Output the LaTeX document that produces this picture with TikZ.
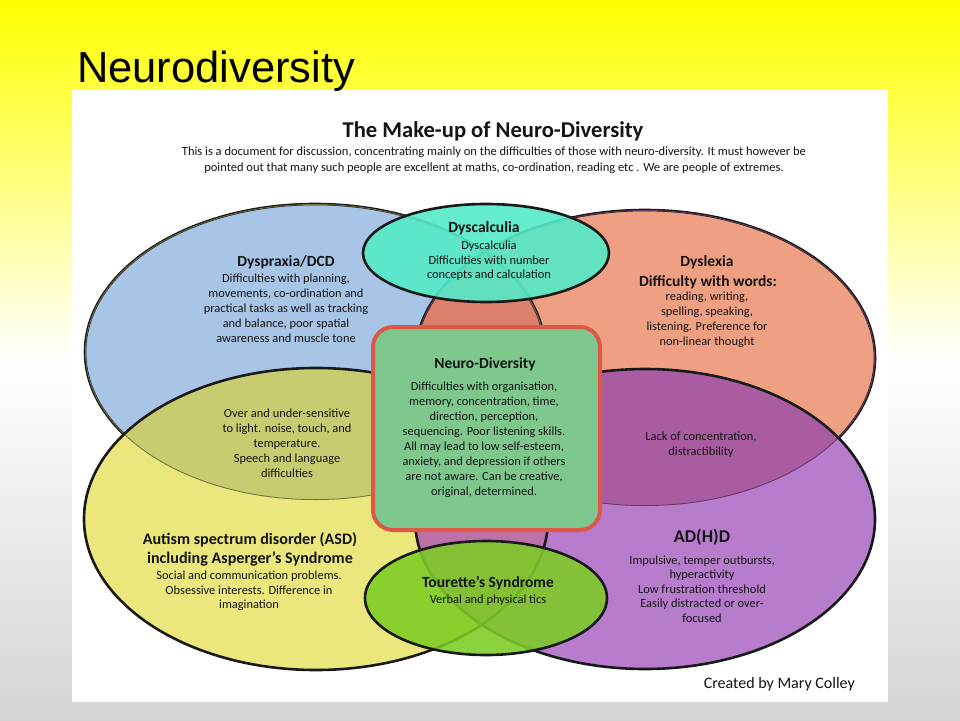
\documentclass[tikz,border=0pt]{standalone}
\usepackage{fontspec}
\setmainfont{Carlito}
\newfontfamily\arialf{Liberation Sans}
\definecolor{bgyel}{RGB}{255,255,0}
\definecolor{bggray}{RGB}{212,212,212}
\definecolor{cblue}{RGB}{168,196,230}
\definecolor{corange}{RGB}{240,160,130}
\definecolor{cyellow}{RGB}{234,232,125}
\definecolor{cpurple}{RGB}{183,124,204}
\definecolor{colive}{RGB}{200,204,112}
\definecolor{cdpurp}{RGB}{170,92,162}
\definecolor{credov}{RGB}{222,128,110}
\definecolor{cmauve}{RGB}{190,112,168}
\definecolor{cteal}{RGB}{84,234,200}
\definecolor{cboxg}{RGB}{126,200,142}
\definecolor{cboxr}{RGB}{222,88,72}
\definecolor{ctgreen}{RGB}{124,204,36}
\definecolor{cedge}{RGB}{25,25,25}
\definecolor{ctext}{RGB}{20,20,20}
\tikzset{
  edge/.style={draw=cedge, line width=2.6pt},
  ttl/.style={font={\fontsize{15.5}{19}\selectfont\bfseries}, text=ctext, align=center, inner sep=0pt},
  body/.style={font={\fontsize{12.4}{15}\selectfont}, text=ctext, align=center, inner sep=0pt},
}
\begin{document}
\begin{tikzpicture}[x=1pt,y=-1pt]
\useasboundingbox (0,0) rectangle (960,720);
\shade[top color=bgyel, bottom color=bggray, middle color=white] (0,0) rectangle (960,720);
\fill[white] (72,90) rectangle (888,702);

% base fills
\fill[cblue] (315,352) ellipse [x radius=230, y radius=148];
\fill[corange] (645,358) ellipse [x radius=230, y radius=148];
\begin{scope}
  \clip (315,352) ellipse [x radius=230, y radius=148];
  \fill[credov] (645,358) ellipse [x radius=230, y radius=148];
\end{scope}
\draw[edge] (315,352) ellipse [x radius=230, y radius=148];
\draw[edge] (645,358) ellipse [x radius=230, y radius=148];

\fill[cyellow] (316,519) ellipse [x radius=232, y radius=151];
\fill[cpurple] (645,519) ellipse [x radius=230, y radius=150];
\begin{scope}
  \clip (316,519) ellipse [x radius=232, y radius=151];
  \fill[cmauve] (645,519) ellipse [x radius=230, y radius=150];
\end{scope}
\begin{scope}
  \clip (315,352) ellipse [x radius=230, y radius=148];
  \fill[colive] (316,519) ellipse [x radius=232, y radius=151];
  \draw[draw=colive!55!black, line width=1.6pt] (315,352) ellipse [x radius=230, y radius=148];
\end{scope}
\begin{scope}
  \clip (645,358) ellipse [x radius=230, y radius=148];
  \fill[cdpurp] (645,519) ellipse [x radius=230, y radius=150];
  \draw[draw=cdpurp!60!black, line width=1.6pt] (645,358) ellipse [x radius=230, y radius=148];
\end{scope}
\draw[edge] (316,519) ellipse [x radius=232, y radius=151];
\draw[edge] (645,519) ellipse [x radius=230, y radius=150];

% Dyscalculia and Tourette ellipses
\fill[cteal, opacity=0.9] (486,253) ellipse [x radius=123, y radius=49];
\draw[edge] (486,253) ellipse [x radius=123, y radius=49];
\fill[ctgreen, opacity=0.88] (486,598) ellipse [x radius=121, y radius=57];
\draw[edge] (486,598) ellipse [x radius=121, y radius=57];

% central box
\draw[draw=cboxr, fill=cboxg, line width=4pt, rounded corners=20pt] (373,327) rectangle (600,530);

% texts
\node[anchor=base west, inner sep=0pt, font={\arialf\fontsize{43.5}{48}\selectfont}] (maintitle) at (77,82) {Neurodiversity};
\node[ttl, font={\fontsize{22.6}{26}\selectfont\bfseries}] (mtitle) at (493,131) {The Make-up of Neuro-Diversity};
\node[body, font={\fontsize{12.5}{16}\selectfont}] (sub) at (494,160) {This is a document for discussion, concentrating mainly on the difficulties of those with neuro-diversity. It must however be\\pointed out that many such people are excellent at maths, co-ordination, reading etc . We are people of extremes.};

\node[ttl] (dyspT) at (286,262) {Dyspraxia/DCD};
\node[body] (dyspB) at (286,308) {Difficulties with planning,\\movements, co-ordination and\\practical tasks as well as tracking\\and balance, poor spatial\\awareness and muscle tone};

\node[body] (sens) at (287,443) {Over and under-sensitive\\to light. noise, touch, and\\temperature.\\Speech and language\\difficulties};

\node[ttl] (dyscT) at (484,228) {Dyscalculia};
\node[body, font={\fontsize{12.4}{14.5}\selectfont}] (dyscB) at (489,261) {Dyscalculia\\Difficulties with number\\concepts and calculation};

\node[ttl] (dyslT) at (707,262) {Dyslexia};
\node[ttl] (dyslW) at (708,282) {Difficulty with words:};
\node[body] (dyslB) at (707,320) {reading, writing,\\spelling, speaking,\\listening. Preference for\\non-linear thought};

\node[body] (lack) at (701,445) {Lack of concentration,\\distractibility};

\node[ttl] (ndT) at (485,364) {Neuro-Diversity};
\node[body] (ndB) at (484,440) {Difficulties with organisation,\\memory, concentration, time,\\direction, perception,\\sequencing. Poor listening skills.\\All may lead to low self-esteem,\\anxiety, and depression if others\\are not aware. Can be creative,\\original, determined.};

\node[ttl, font={\fontsize{16.1}{18.5}\selectfont\bfseries}] (asdT) at (250,549.5) {Autism spectrum disorder (ASD)\\including Asperger's Syndrome};
\node[body, font={\fontsize{12.4}{14.5}\selectfont}] (asdB) at (249,591) {Social and communication problems.\\Obsessive interests. Difference in\\imagination};

\node[ttl, font={\fontsize{18}{20}\selectfont\bfseries}] (adhdT) at (702,537) {AD(H)D};
\node[body, font={\fontsize{12.4}{14.5}\selectfont}] (adhdB) at (702,589) {Impulsive, temper outbursts,\\hyperactivity\\Low frustration threshold\\Easily distracted or over-\\focused};

\node[ttl] (tourT) at (488,583) {Tourette's Syndrome};
\node[body] (tourB) at (488,600) {Verbal and physical tics};

\node[anchor=east, inner sep=0pt, text=ctext, font={\fontsize{16}{18}\selectfont}] (credit) at (855,684) {Created by Mary Colley};
\end{tikzpicture}
\end{document}
